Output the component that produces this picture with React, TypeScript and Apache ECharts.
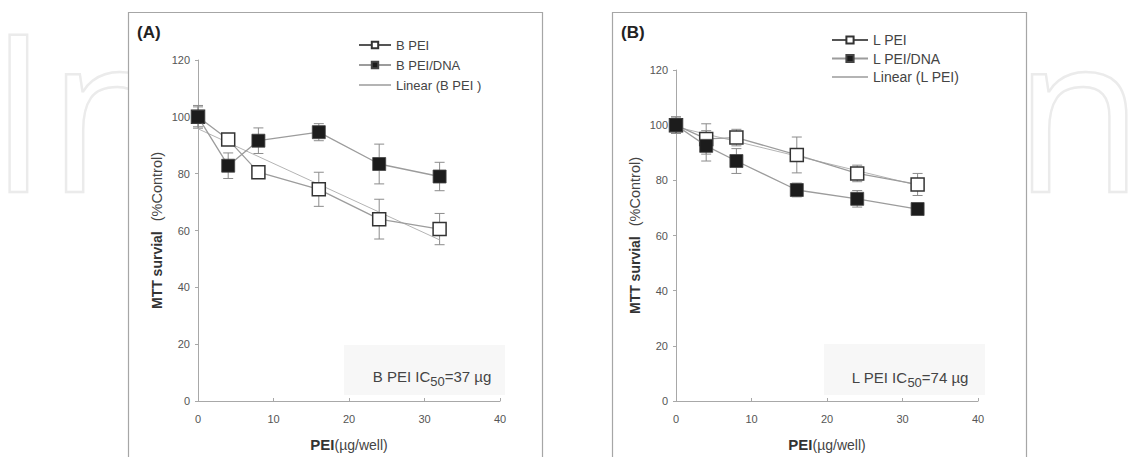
import React, { useEffect, useRef } from "react";
import * as echarts from "echarts";

// ---- data ----
const doses = [0, 4, 8, 16, 24, 32];
const xTicks = { min: 0, max: 40, step: 10 };
const yTicks = { min: 0, max: 120, step: 20 };

// Panel (A)
const bPei = [100, 92, 80.5, 74.5, 64, 60.5];
const bPeiErr = [3.5, 2, 2, 6, 7, 5.5];
const bPeiDna = [100, 82.8, 91.6, 94.6, 83.4, 79];
const bPeiDnaErr = [4, 4.5, 4.5, 3, 7, 5];
const bTrendX = [0, 32];
const bTrendY = [95.8, 56.7];

// Panel (B)
const lPei = [100, 95, 95.5, 89.2, 82.5, 78.5];
const lPeiErr = [3, 5.5, 3, 6.5, 3, 4];
const lPeiDna = [100, 92.5, 87, 76.5, 73.3, 69.6];
const lPeiDnaErr = [3, 5.5, 4.5, 2.5, 3, 1.5];
const lTrendX = [0, 32];
const lTrendY = [99.4, 78.2];

const FONT = "'Liberation Sans', Arial, sans-serif";

const pairs = (xs: number[], ys: number[]) => xs.map((x, i) => [x, ys[i]]);
const errs = (ys: number[], es: number[]) =>
  doses.map((d, i) => [d, ys[i] - es[i], ys[i] + es[i]]);

const errRender = (params: any, api: any) => {
  const x = api.value(0);
  const lo = api.value(1);
  const hi = api.value(2);
  const top = api.coord([x, hi]);
  const bot = api.coord([x, lo]);
  const w = 5;
  const style = { stroke: "#8c8c8c", lineWidth: 1, fill: null };
  return {
    type: "group",
    children: [
      { type: "line", shape: { x1: top[0], y1: top[1], x2: bot[0], y2: bot[1] }, style },
      { type: "line", shape: { x1: top[0] - w, y1: top[1], x2: top[0] + w, y2: top[1] }, style },
      { type: "line", shape: { x1: bot[0] - w, y1: bot[1], x2: bot[0] + w, y2: bot[1] }, style },
    ],
  };
};

const xAxisFor = (gi: number) => ({
  type: "value",
  gridIndex: gi,
  z: 5,
  min: xTicks.min,
  max: xTicks.max,
  interval: xTicks.step,
  axisLine: { show: true, onZero: false, lineStyle: { color: "#a8a8a8", width: 1 } },
  axisTick: { show: true, inside: true, length: 3, lineStyle: { color: "#a8a8a8" } },
  axisLabel: { color: "#555", fontSize: 11, fontFamily: FONT, margin: 12 },
  splitLine: { show: false },
  name: "{b|PEI}{n|(µg/well)}",
  nameLocation: "middle",
  nameGap: 36,
  nameTextStyle: {
    rich: {
      b: { fontWeight: "bold", fontSize: 15, color: "#333", fontFamily: FONT },
      n: { fontSize: 14, color: "#444", fontFamily: FONT },
    },
  },
});

const yAxisFor = (gi: number) => ({
  type: "value",
  gridIndex: gi,
  z: 5,
  min: yTicks.min,
  max: yTicks.max,
  interval: yTicks.step,
  axisLine: { show: true, onZero: false, lineStyle: { color: "#a8a8a8", width: 1 } },
  axisTick: { show: true, inside: false, length: 3, lineStyle: { color: "#a8a8a8" } },
  axisLabel: { color: "#555", fontSize: 11, fontFamily: FONT, margin: 8 },
  splitLine: { show: false },
  name: "{b|MTT survial}   {n|(%Control)}",
  nameLocation: "middle",
  nameRotate: 90,
  nameGap: 34,
  nameTextStyle: {
    rich: {
      b: { fontWeight: "bold", fontSize: 14, color: "#333", fontFamily: FONT },
      n: { fontSize: 14.5, color: "#444", fontFamily: FONT },
    },
  },
});

const openSq = { color: "#ffffff", borderColor: "#333", borderWidth: 1.5 };
const fillSq = { color: "#1c1c1c", borderColor: "#444", borderWidth: 0.8 };
const dataLine = { color: "#9c9c9c", width: 1.3 };
const trendLine = { color: "#b4b4b4", width: 1 };

const lineSeries = (name: string, gi: number, data: number[][], item: any, z: number) => ({
  name,
  type: "line",
  xAxisIndex: gi,
  yAxisIndex: gi,
  data,
  symbol: "rect",
  symbolSize: 13,
  itemStyle: item,
  lineStyle: dataLine,
  z,
});

const trendSeries = (name: string, gi: number, data: number[][]) => ({
  name,
  type: "line",
  xAxisIndex: gi,
  yAxisIndex: gi,
  data,
  symbol: "none",
  showSymbol: false,
  lineStyle: trendLine,
  itemStyle: { color: "#b4b4b4" },
  z: 7,
});

const errSeries = (name: string, gi: number, data: number[][]) => ({
  name,
  type: "custom",
  xAxisIndex: gi,
  yAxisIndex: gi,
  data,
  renderItem: errRender,
  z: 6,
});

const hidden = { color: "rgba(0,0,0,0)", borderColor: "rgba(0,0,0,0)", borderWidth: 0 };

export default function App() {
  const ref = useRef<HTMLDivElement>(null);
  useEffect(() => {
    if (!ref.current) return;
    const chart = echarts.init(ref.current, undefined, { renderer: "svg" });
    const option: any = {
      animation: false,
      backgroundColor: "#ffffff",
      textStyle: { fontFamily: FONT },
      grid: [
        { left: 198, top: 60, width: 302, height: 342 },
        { left: 676, top: 70, width: 302, height: 332 },
      ],
      xAxis: [xAxisFor(0), xAxisFor(1)],
      yAxis: [yAxisFor(0), yAxisFor(1)],
      legend: [
        {
          orient: "vertical",
          left: 353,
          top: 33,
          z: 10,
          itemWidth: 32,
          itemHeight: 8,
          itemGap: 6,
          selectedMode: false,
          textStyle: { fontSize: 13, lineHeight: 14, color: "#444", fontFamily: FONT },
          data: [
            { name: "B PEI", lineStyle: { color: "#555", width: 2 } },
            { name: "B PEI/DNA" },
            { name: "Linear (B PEI )", itemStyle: hidden },
          ],
        },
        {
          orient: "vertical",
          left: 826,
          top: 27,
          z: 10,
          itemWidth: 36,
          itemHeight: 9,
          itemGap: 2.5,
          selectedMode: false,
          textStyle: { fontSize: 14, lineHeight: 16, color: "#444", fontFamily: FONT },
          data: [
            { name: "L PEI", lineStyle: { color: "#555", width: 2 } },
            { name: "L PEI/DNA" },
            { name: "Linear (L PEI)", itemStyle: hidden },
          ],
        },
      ],
      graphic: [
        {
          type: "text",
          z: -10,
          silent: true,
          x: -11,
          y: 107,
          scaleX: 0.96,
          scaleY: 1,
          style: {
            text: "IntechOpen",
            x: 0,
            y: 0,
            font: "220px 'Open Sans', sans-serif",
            fill: "rgba(0,0,0,0)",
            stroke: "#ebebeb",
            lineWidth: 2.5,
            verticalAlign: "middle",
            textVerticalAlign: "middle",
          },
        },
        {
          type: "rect",
          z: -6,
          silent: true,
          shape: { x: 543, y: 13, width: 69, height: 444 },
          style: { fill: "#ffffff" },
        },
        {
          type: "rect",
          z: -5,
          shape: { x: 128.5, y: 12.5, width: 414, height: 470 },
          style: { fill: "#ffffff", stroke: "#a6a6a6", lineWidth: 1.2 },
        },
        {
          type: "rect",
          z: -5,
          shape: { x: 612.5, y: 12.5, width: 414, height: 470 },
          style: { fill: "#ffffff", stroke: "#a6a6a6", lineWidth: 1.2 },
        },
        {
          type: "rect",
          z: -4,
          shape: { x: 344, y: 345, width: 161, height: 50 },
          style: { fill: "#f7f7f7" },
        },
        {
          type: "rect",
          z: -4,
          shape: { x: 824, y: 344, width: 161, height: 51 },
          style: { fill: "#f7f7f7" },
        },
        {
          type: "text",
          z: 10,
          style: {
            text: "(A)",
            x: 137,
            y: 32,
            font: `bold 17px ${FONT}`,
            fill: "#222",
            verticalAlign: "middle",
            textVerticalAlign: "middle",
          },
        },
        {
          type: "text",
          z: 10,
          style: {
            text: "(B)",
            x: 621,
            y: 32,
            font: `bold 17px ${FONT}`,
            fill: "#222",
            verticalAlign: "middle",
            textVerticalAlign: "middle",
          },
        },
        {
          type: "text",
          z: 10,
          style: {
            text: "{a|B PEI IC}{s|50}{a|=37 µg}",
            x: 432,
            y: 376,
            align: "center",
            textAlign: "center",
            verticalAlign: "middle",
            textVerticalAlign: "middle",
            rich: {
              a: { fontSize: 15, fill: "#444", color: "#444", fontFamily: FONT },
              s: { fontSize: 13, fill: "#444", color: "#444", fontFamily: FONT, padding: [10, 0, 0, 0] },
            },
          },
        },
        {
          type: "text",
          z: 10,
          style: {
            text: "{a|L PEI IC}{s|50}{a|=74 µg}",
            x: 910,
            y: 377,
            align: "center",
            textAlign: "center",
            verticalAlign: "middle",
            textVerticalAlign: "middle",
            rich: {
              a: { fontSize: 15, fill: "#444", color: "#444", fontFamily: FONT },
              s: { fontSize: 13, fill: "#444", color: "#444", fontFamily: FONT, padding: [10, 0, 0, 0] },
            },
          },
        },
      ],
      series: [
        errSeries("B PEI error", 0, errs(bPei, bPeiErr)),
        errSeries("B PEI/DNA error", 0, errs(bPeiDna, bPeiDnaErr)),
        trendSeries("Linear (B PEI )", 0, pairs(bTrendX, bTrendY)),
        lineSeries("B PEI", 0, pairs(doses, bPei), openSq, 8),
        lineSeries("B PEI/DNA", 0, pairs(doses, bPeiDna), fillSq, 9),
        errSeries("L PEI error", 1, errs(lPei, lPeiErr)),
        errSeries("L PEI/DNA error", 1, errs(lPeiDna, lPeiDnaErr)),
        trendSeries("Linear (L PEI)", 1, pairs(lTrendX, lTrendY)),
        lineSeries("L PEI", 1, pairs(doses, lPei), openSq, 8),
        lineSeries("L PEI/DNA", 1, pairs(doses, lPeiDna), fillSq, 9),
      ],
    };
    chart.setOption(option);
    return () => chart.dispose();
  }, []);
  return (
    <div
      ref={ref}
      style={{ position: "absolute", left: 0, top: 0, width: 1140, height: 457 }}
    />
  );
}
